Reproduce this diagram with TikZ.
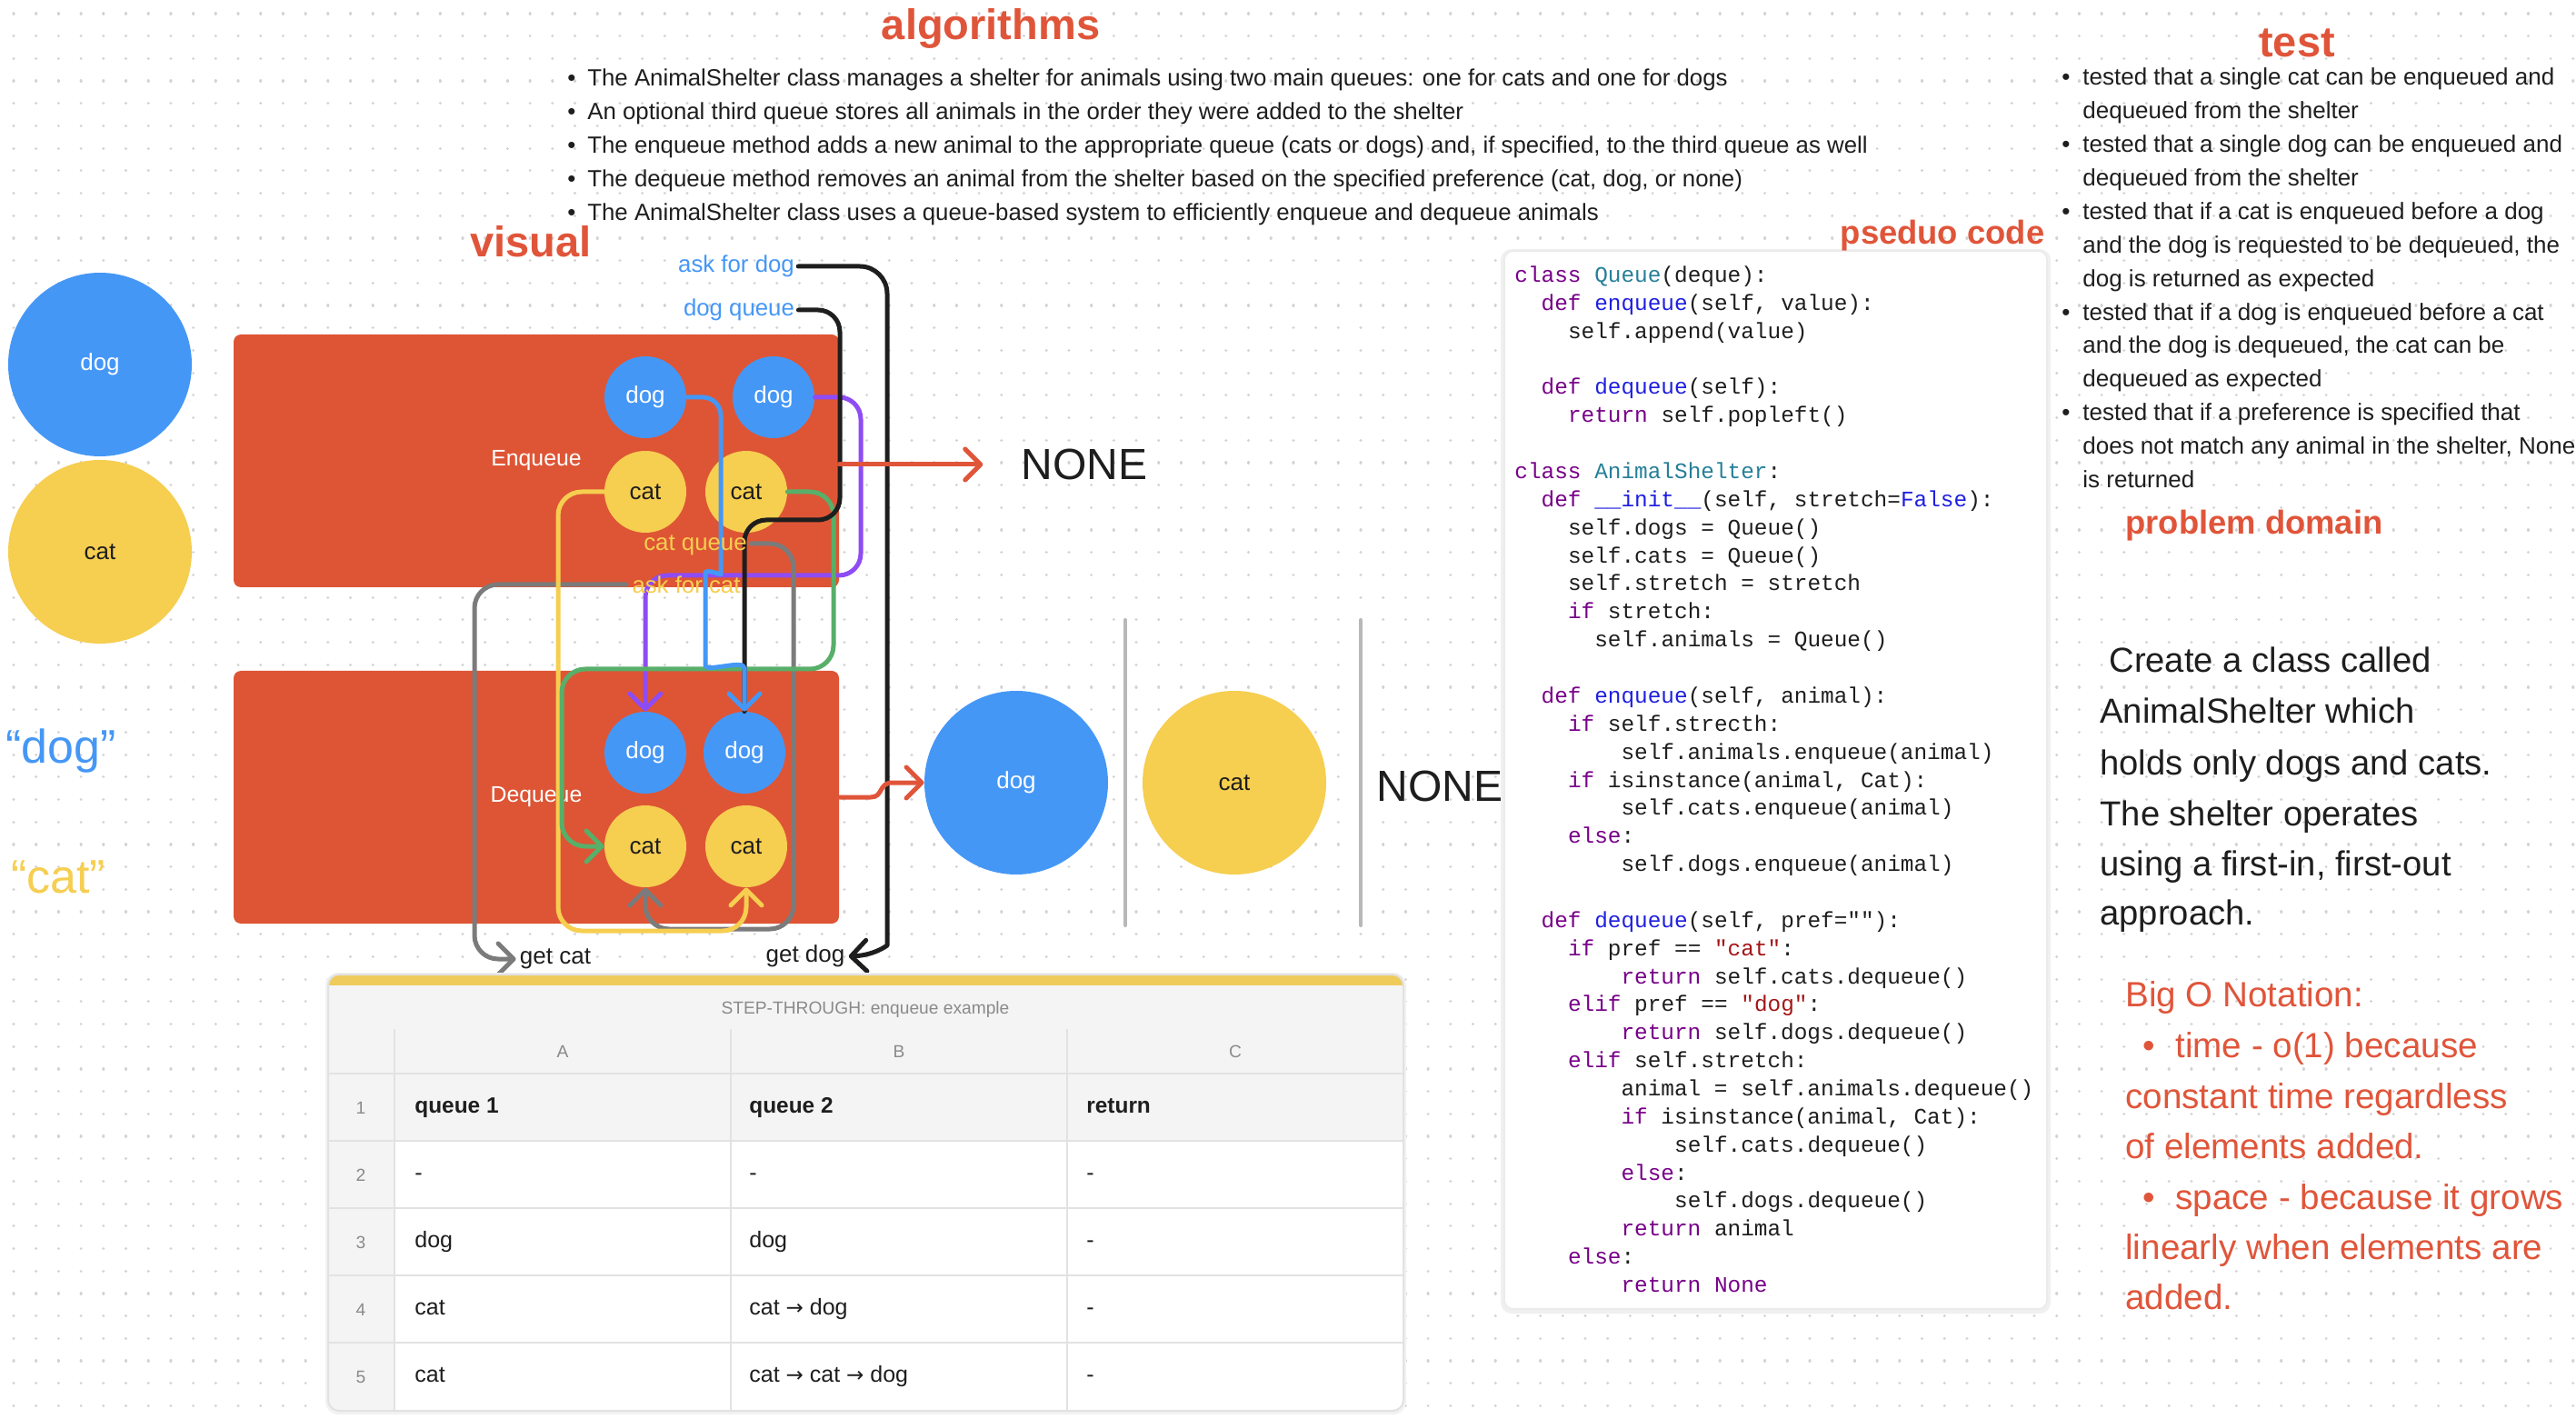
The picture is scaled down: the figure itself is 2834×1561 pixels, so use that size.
\documentclass[tikz,border=0pt]{standalone}
\usepackage{fontspec}
\setmainfont{Liberation Sans}
\setmonofont{Liberation Mono}
\newfontfamily\dvsans{DejaVu Sans}
\usetikzlibrary{arrows.meta}
\definecolor{orng}{HTML}{E0553A}
\definecolor{boxred}{HTML}{DE5535}
\definecolor{dblue}{HTML}{4597F6}
\definecolor{dyel}{HTML}{F6CE50}
\definecolor{ink}{HTML}{1E1E1E}
\definecolor{lgreen}{HTML}{58AF69}
\definecolor{lpurp}{HTML}{8E4CF5}
\definecolor{lgray}{HTML}{7B7B7B}
\definecolor{sepgray}{HTML}{B8B8B8}
\definecolor{dotc}{HTML}{D2D2D2}
\definecolor{kwc}{HTML}{770088}
\definecolor{fnc}{HTML}{1F1FE0}
\definecolor{clc}{HTML}{267F99}
\definecolor{strc}{HTML}{A31515}
\definecolor{tblline}{HTML}{E2E2E2}
\definecolor{tblbg}{HTML}{F4F4F4}
\definecolor{tblyel}{HTML}{EFCB5C}
\definecolor{tgray}{HTML}{8A8A8A}
\newcommand{\fsz}[1]{\fontsize{#1}{#1}\selectfont}
\newcommand{\ckw}[1]{\textcolor{kwc}{#1}}
\newcommand{\cfn}[1]{\textcolor{fnc}{#1}}
\newcommand{\ccl}[1]{\textcolor{clc}{#1}}
\newcommand{\cstr}[1]{\textcolor{strc}{#1}}
\newcommand{\bul}[1]{\llap{•\hspace{#1}}}
\newcommand{\rarr}{{\dvsans\fsz{11.5pt}→}}
\tikzset{
  conn/.style={line width=2.5pt, line cap=round, line join=round},
  witharrow/.style={-{Straight Barb[round,length=8.5pt,width=17pt]}},
  dotgrid/.style={draw=dotc, line width=1.6pt, line cap=round, dash pattern=on 0.01pt off 12.34pt},
  bigttl/.style={inner sep=0, text=orng, font=\bfseries\fsz{23.5pt}},
  smttl/.style={inner sep=0, text=orng, font=\bfseries\fsz{18.2pt}},
  txt/.style={anchor=base west, inner sep=0, text=ink},
  algtxt/.style={txt, font=\fsz{12.9pt}},
  testtxt/.style={txt, font=\fsz{13pt}},
  probtxt/.style={txt, font=\fsz{19.1pt}},
  bigotxt/.style={txt, text=orng, font=\fsz{19.3pt}},
  codetxt/.style={txt, font=\ttfamily\fsz{12.2pt}},
  bigdog/.style={circle, fill=dblue, minimum size=101pt, inner sep=0, text=white, font=\fsz{13pt}},
  bigcat/.style={circle, fill=dyel, minimum size=101pt, inner sep=0, text=ink, font=\fsz{13pt}},
  smdog/.style={circle, fill=dblue, minimum size=45pt, inner sep=0, text=white, font=\fsz{13pt}},
  smcat/.style={circle, fill=dyel, minimum size=45pt, inner sep=0, text=ink, font=\fsz{13pt}},
  qbox/.style={rectangle, fill=boxred, rounded corners=4pt, minimum width=333pt, minimum height=139pt, text=white, font=\fsz{12.4pt}},
  lbl/.style={inner sep=2pt, font=\fsz{12.9pt}},
  sepline/.style={draw=sepgray, line width=2pt, line cap=round},
  tgtxt/.style={inner sep=0, anchor=base, text=tgray, font=\fsz{9.6pt}},
  cell/.style={txt, font=\fsz{12.5pt}},
  hcell/.style={txt, font=\bfseries\fsz{12.2pt}},
}
\begin{document}
\begin{tikzpicture}[x=0.5pt,y=-0.5pt]
\useasboundingbox (0,0) rectangle (2834,1561);
\fill[white] (0,0) rectangle (2834,1561);
% dotted background
\foreach \j in {0,...,62} {
  \draw[dotgrid] (15,{15+24.7*\j}) -- (2834,{15+24.7*\j});
}

% ---------- code box ----------
\fill[black!6, rounded corners=6pt] (1651,274) rectangle (2256,1445);
\node[rectangle, fill=white, draw=black!8, line width=0.8pt, rounded corners=5pt, minimum width=298.5pt, minimum height=582pt, inner sep=0] (codebox) at (1953.5,858) {};

% ---------- titles ----------
\node[bigttl, anchor=base] (talg) at (1090,44) {algorithms};
\node[bigttl, anchor=base] (tvis) at (584,283) {visual};
\node[bigttl, anchor=base] (ttest) at (2527,63) {test};
\node[smttl, anchor=base] (tcode) at (2137,269) {pseduo code};
\node[smttl, anchor=base] (tprob) at (2480,588) {problem domain};

% ---------- algorithms bullets ----------
\node[algtxt] (a1) at (646,94.5) {\bul{6.5pt}The AnimalShelter class manages a shelter for animals using two main queues: one for cats and one for dogs};
\node[algtxt] (a2) at (646,131.5) {\bul{6.5pt}An optional third queue stores all animals in the order they were added to the shelter};
\node[algtxt] (a3) at (646,168.5) {\bul{6.5pt}The enqueue method adds a new animal to the appropriate queue (cats or dogs) and, if specified, to the third queue as well};
\node[algtxt] (a4) at (646,205.5) {\bul{6.5pt}The dequeue method removes an animal from the shelter based on the specified preference (cat, dog, or none)};
\node[algtxt] (a5) at (646,242.5) {\bul{6.5pt}The AnimalShelter class uses a queue-based system to efficiently enqueue and dequeue animals};

% ---------- test bullets ----------
\node[testtxt] (t1) at (2291,94) {\bul{7pt}tested that a single cat can be enqueued and};
\node[testtxt] (t2) at (2291,131) {dequeued from the shelter};
\node[testtxt] (t3) at (2291,168) {\bul{7pt}tested that a single dog can be enqueued and};
\node[testtxt] (t4) at (2291,205) {dequeued from the shelter};
\node[testtxt] (t5) at (2291,242) {\bul{7pt}tested that if a cat is enqueued before a dog};
\node[testtxt] (t6) at (2291,279) {and the dog is requested to be dequeued, the};
\node[testtxt] (t7) at (2291,315.5) {dog is returned as expected};
\node[testtxt] (t8) at (2291,353) {\bul{7pt}tested that if a dog is enqueued before a cat};
\node[testtxt] (t9) at (2291,389) {and the dog is dequeued, the cat can be};
\node[testtxt] (t10) at (2291,426) {dequeued as expected};
\node[testtxt] (t11) at (2291,463) {\bul{7pt}tested that if a preference is specified that};
\node[testtxt] (t12) at (2291,500) {does not match any animal in the shelter, None};
\node[testtxt] (t13) at (2291,537) {is returned};

% ---------- problem domain ----------
\node[probtxt] (p1) at (2320,740) {Create a class called};
\node[probtxt] (p2) at (2310,796) {AnimalShelter which};
\node[probtxt] (p3) at (2310,852) {holds only dogs and cats.};
\node[probtxt] (p4) at (2310,908) {The shelter operates};
\node[probtxt] (p5) at (2310,963) {using a first-in, first-out};
\node[probtxt] (p6) at (2310,1017) {approach.};
\node[bigotxt] (b1) at (2338,1107) {Big O Notation:};
\node[bigotxt] (b2) at (2393,1163) {\bul{11pt}time - o(1) because};
\node[bigotxt] (b3) at (2338,1219) {constant time regardless};
\node[bigotxt] (b4) at (2338,1274) {of elements added.};
\node[bigotxt] (b5) at (2393,1330) {\bul{11pt}space - because it grows};
\node[bigotxt] (b6) at (2338,1385) {linearly when elements are};
\node[bigotxt] (b7) at (2338,1440) {added.};

% ---------- code ----------
\node[codetxt] (c1) at (1666,310.5) {\ckw{class} \ccl{Queue}(deque):};
\node[codetxt] (c2) at (1695.3,341.4) {\ckw{def} \cfn{enqueue}(self, value):};
\node[codetxt] (c3) at (1724.6,372.2) {self.append(value)};
\node[codetxt] (c5) at (1695.3,433.9) {\ckw{def} \cfn{dequeue}(self):};
\node[codetxt] (c6) at (1724.6,464.8) {\ckw{return} self.popleft()};
\node[codetxt] (c8) at (1666,526.5) {\ckw{class} \ccl{AnimalShelter}:};
\node[codetxt] (c9) at (1695.3,557.4) {\ckw{def} \cfn{\_\_init\_\_}(self, stretch=\cfn{False}):};
\node[codetxt] (c10) at (1724.6,588.2) {self.dogs = Queue()};
\node[codetxt] (c11) at (1724.6,619.1) {self.cats = Queue()};
\node[codetxt] (c12) at (1724.6,649.9) {self.stretch = stretch};
\node[codetxt] (c13) at (1724.6,680.8) {\ckw{if} stretch:};
\node[codetxt] (c14) at (1753.9,711.7) {self.animals = Queue()};
\node[codetxt] (c16) at (1695.3,773.4) {\ckw{def} \cfn{enqueue}(self, animal):};
\node[codetxt] (c17) at (1724.6,804.3) {\ckw{if} self.strecth:};
\node[codetxt] (c18) at (1783.1,835.1) {self.animals.enqueue(animal)};
\node[codetxt] (c19) at (1724.6,866.0) {\ckw{if} isinstance(animal, Cat):};
\node[codetxt] (c20) at (1783.1,896.8) {self.cats.enqueue(animal)};
\node[codetxt] (c21) at (1724.6,927.7) {\ckw{else}:};
\node[codetxt] (c22) at (1783.1,958.6) {self.dogs.enqueue(animal)};
\node[codetxt] (c24) at (1695.3,1020.3) {\ckw{def} \cfn{dequeue}(self, pref=""):};
\node[codetxt] (c25) at (1724.6,1051.1) {\ckw{if} pref == \cstr{"cat"}:};
\node[codetxt] (c26) at (1783.1,1082.0) {\ckw{return} self.cats.dequeue()};
\node[codetxt] (c27) at (1724.6,1112.9) {\ckw{elif} pref == \cstr{"dog"}:};
\node[codetxt] (c28) at (1783.1,1143.7) {\ckw{return} self.dogs.dequeue()};
\node[codetxt] (c29) at (1724.6,1174.6) {\ckw{elif} self.stretch:};
\node[codetxt] (c30) at (1783.1,1205.5) {animal = self.animals.dequeue()};
\node[codetxt] (c31) at (1783.1,1236.3) {\ckw{if} isinstance(animal, Cat):};
\node[codetxt] (c32) at (1841.7,1267.2) {self.cats.dequeue()};
\node[codetxt] (c33) at (1783.1,1298.0) {\ckw{else}:};
\node[codetxt] (c34) at (1841.7,1328.9) {self.dogs.dequeue()};
\node[codetxt] (c35) at (1783.1,1359.8) {\ckw{return} animal};
\node[codetxt] (c36) at (1724.6,1390.6) {\ckw{else}:};
\node[codetxt] (c37) at (1783.1,1421.5) {\ckw{return} \ckw{None}};

% ---------- legend left ----------
\node[bigdog] (ld) at (110,401) {dog};
\node[bigcat] (lc) at (110,607) {cat};
\node[inner sep=0, text=dblue, font=\fsz{26pt}] (qdog) at (67,826) {“dog”};
\node[inner sep=0, text=dyel, font=\fsz{26pt}] (qcat) at (64,965) {“cat”};

% ---------- visual ----------
\node[qbox] (enq) at (590,507) {Enqueue};
\node[qbox] (deq) at (590,877) {Dequeue};
\node[smdog] (ed1) at (710,437) {dog};
\node[smdog] (ed2) at (851,437) {dog};
\node[smcat] (ec1) at (710,541) {cat};
\node[smcat] (ec2) at (821,541) {cat};
\node[smdog] (dd1) at (710,828) {dog};
\node[smdog] (dd2) at (819,828) {dog};
\node[smcat] (dc1) at (710,931) {cat};
\node[smcat] (dc2) at (821,931) {cat};

\node[lbl, text=dblue] (askdog) at (810,293) {ask for dog};
\node[lbl, text=dblue] (dogq) at (813,341) {dog queue};
\node[lbl, text=ink, font=\fsz{13pt}] (getcat) at (611,1055) {get cat};
\node[lbl, text=ink, font=\fsz{13pt}] (getdog) at (886,1052) {get dog};
\coordinate (catqend) at (826,598);
\coordinate (askcatend) at (689,643);

% connectors
\draw[conn, lpurp, witharrow, rounded corners=12pt] (ed2.east) -- (947,437) -- (947,633) -- (710,633) -- (dd1.north);
\draw[conn, lgray, witharrow, rounded corners=13pt] (catqend) -- (873,598) -- (873,1022) -- (710,1022) -- (dc1.south);
\draw[conn, lgray, witharrow, rounded corners=13pt] (askcatend) -- (522,643) -- (522,1055) -- (getcat.west);
\draw[conn, dyel, witharrow, rounded corners=13pt] (ec1.west) -- (614,541) -- (614,1024) -- (821,1024) -- (dc2.south);
\draw[conn, lgreen, witharrow, rounded corners=13pt] (ec2.east) -- (917,541) -- (917,736) -- (618,736) -- (618,931) -- (dc1.west);
\draw[conn, ink, rounded corners=12pt] (dogq.east) -- (924,341) -- (924,572) -- (819,572) -- (dd2.north);
\draw[conn, dblue, witharrow, rounded corners=10pt] (ed1.east) -- (793,437) -- (793,612) .. controls (793,632) and (776,626) .. (776,650) -- (776,712) .. controls (776,740) and (819,725) .. (819,755) -- (dd2.north);
\draw[conn, ink, witharrow, rounded corners=15pt] (askdog.east) -- (976,293) -- (976,1010) .. controls (976,1040) and (962,1051) .. (getdog.east);

\node[lbl, text=dyel] (catq) at (765,600) {cat queue};
\node[lbl, text=dyel] (askcat) at (755,643) {ask for cat};

% outputs
\node[inner sep=0, text=ink, font=\fsz{24pt}] (none1) at (1193,511) {NONE};
\draw[conn, orng, witharrow] (enq.east |- none1.west) -- ([xshift=-21pt]none1.west);
\node[bigdog] (od) at (1118,861) {dog};
\node[bigcat] (oc) at (1358,861) {cat};
\node[inner sep=0, text=ink, font=\fsz{24pt}] (none2) at (1584,865) {NONE};
\draw[sepline] (1238,682) -- (1238,1018);
\draw[sepline] (1497,682) -- (1497,1018);
\draw[conn, orng, witharrow] (deq.east) -- (958,877) .. controls (972,877) and (966,861) .. (982,861) -- (od.west);

% ---------- table ----------
\fill[black!5, rounded corners=7pt] (358,1070) rectangle (1547,1556);
\node[rectangle, fill=white, rounded corners=6pt, minimum width=591.5pt, minimum height=240pt, inner sep=0] (tbl) at (952.5,1312) {};
\begin{scope}
\clip[rounded corners=6pt] (361,1072) rectangle (1544,1552);
\fill[tblyel] (361,1072) rectangle (1544,1084);
\fill[tblbg] (361,1084) rectangle (1544,1255);
\fill[tblbg] (361,1084) rectangle (434,1552);
\foreach \yy in {1181,1255,1329,1403,1477} { \draw[tblline, line width=1pt] (361,\yy) -- (1544,\yy); }
\foreach \xx in {434,804,1174} { \draw[tblline, line width=1pt] (\xx,1132) -- (\xx,1552); }
\end{scope}
\draw[tblline, line width=1pt, rounded corners=6pt] (361,1072) rectangle (1544,1552);
\node[tgtxt] (tttl) at (952,1115) {STEP-THROUGH: enqueue example};
\node[tgtxt] (colA) at (619,1163) {A};
\node[tgtxt] (colB) at (989,1163) {B};
\node[tgtxt] (colC) at (1359,1163) {C};
\node[tgtxt] (r1) at (397,1225) {1};
\node[tgtxt] (r2) at (397,1299) {2};
\node[tgtxt] (r3) at (397,1373) {3};
\node[tgtxt] (r4) at (397,1447) {4};
\node[tgtxt] (r5) at (397,1521) {5};
\node[hcell] (h1) at (456,1224.5) {queue 1};
\node[hcell] (h2) at (824,1224.5) {queue 2};
\node[hcell] (h3) at (1195,1224.5) {return};
\node[cell] (e2a) at (456,1298.5) {-};
\node[cell] (e2b) at (824,1298.5) {-};
\node[cell] (e2c) at (1195,1298.5) {-};
\node[cell] (e3a) at (456,1372.5) {dog};
\node[cell] (e3b) at (824,1372.5) {dog};
\node[cell] (e3c) at (1195,1372.5) {-};
\node[cell] (e4a) at (456,1446.5) {cat};
\node[cell] (e4b) at (824,1446.5) {cat \rarr{} dog};
\node[cell] (e4c) at (1195,1446.5) {-};
\node[cell] (e5a) at (456,1520.5) {cat};
\node[cell] (e5b) at (824,1520.5) {cat \rarr{} cat \rarr{} dog};
\node[cell] (e5c) at (1195,1520.5) {-};
\end{tikzpicture}
\end{document}
